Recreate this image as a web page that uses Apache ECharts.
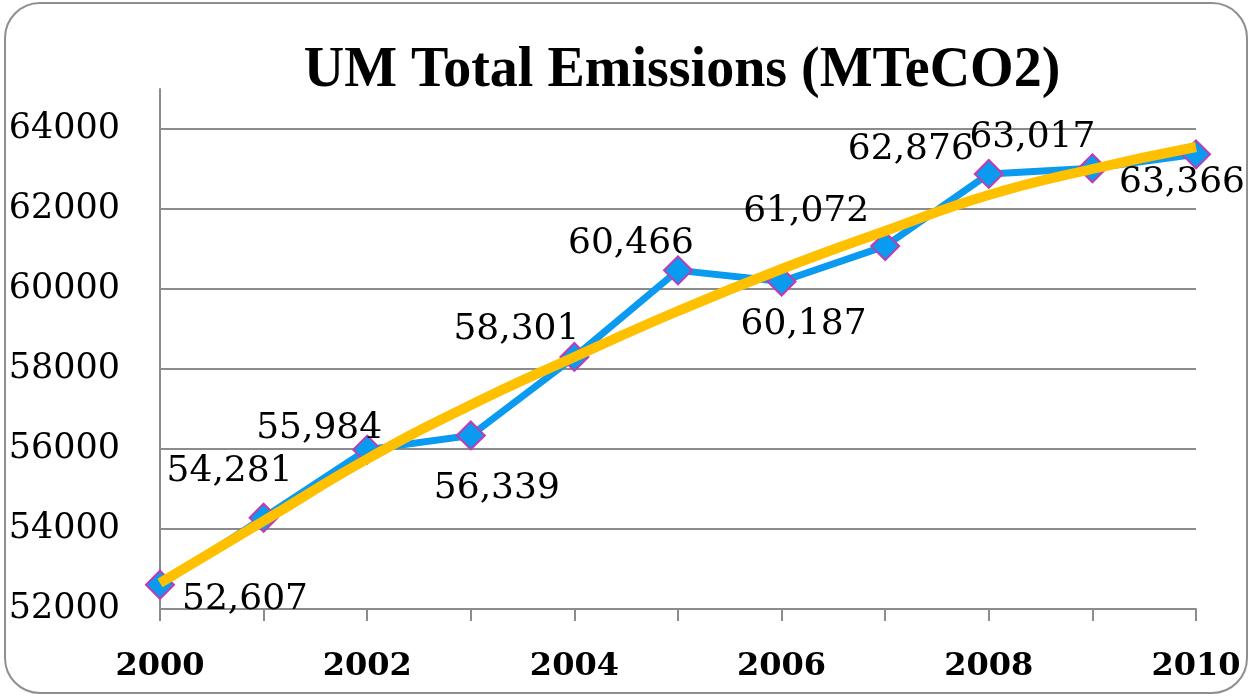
<!DOCTYPE html>
<html><head><meta charset="utf-8">
<script src="https://cdn.jsdelivr.net/npm/echarts@6/dist/echarts.min.js"></script>
<style>
html,body{margin:0;padding:0;background:#fff;}
#wrap{position:relative;width:1250px;height:698px;}
#chart{position:absolute;left:0;top:0;width:1250px;height:698px;}
#frame{position:absolute;left:4px;top:2px;width:1240px;height:688px;border:2px solid #8f8f8f;border-radius:36px;pointer-events:none;}
</style></head>
<body><div id="wrap"><div id="chart"></div><div id="frame"></div></div>
<script>
const years = ['2000','2001','2002','2003','2004','2005','2006','2007','2008','2009','2010'];
const emissions = [52607, 54281, 55984, 56339, 58301, 60466, 60187, 61072, 62876, 63017, 63366];
const trend = [52650, 54200, 55750, 57100, 58300, 59450, 60500, 61450, 62350, 63000, 63550];
const yTicks = [52000, 54000, 56000, 58000, 60000, 62000, 64000];
const titleText = 'UM Total Emissions (MTeCO2)';

// label placement offsets (styling)
const labelOffsets = [[85,15],[-34,-46],[-48,-21],[26,53],[-58,-27],[-47,-27],[22,43],[-79,-34],[-78,-24],[-60,-31],[-14,28]];

const fmt = v => v.toLocaleString('en-US');
const chart = echarts.init(document.getElementById('chart'));
const serif = '"DejaVu Serif", "Liberation Serif", serif';
chart.setOption({
  animation: false,
  title: {text: titleText, left: 677, textAlign: 'center', top: 39,
    textStyle: {fontFamily: '"Liberation Serif", serif', fontWeight: 'bold', fontSize: 56, color: '#000'}},
  grid: {left: 160, right: 54, top: 89, bottom: 89, containLabel: false, outerBoundsMode: 'none'},
  xAxis: {type: 'category', data: years, boundaryGap: false,
    axisLine: {lineStyle: {color: '#8c8c8c', width: 2}},
    axisTick: {show: true, length: 12, interval: 0, lineStyle: {color: '#8c8c8c', width: 2}},
    axisLabel: {interval: 1, margin: 42, fontFamily: serif, fontWeight: 'bold', fontSize: 32, color: '#000'}},
  yAxis: {type: 'value', min: yTicks[0], max: 65000, interval: 2000,
    axisLine: {show: true, lineStyle: {color: '#8c8c8c', width: 2}},
    axisTick: {show: false},
    splitLine: {lineStyle: {color: ['#8c8c8c','#8c8c8c','#8c8c8c','#8c8c8c','#8c8c8c','#8c8c8c','#8c8c8c','rgba(0,0,0,0)'], width: 2}},
    axisLabel: {showMaxLabel: false, margin: 40, fontFamily: serif, fontSize: 35, color: '#000',
      formatter: v => yTicks.includes(v) ? String(v) : ''}},
  series: [
    {type: 'line', name: 'Emissions', data: emissions.map((v, i) => ({value: v,
        label: {show: true, position: 'inside', offset: labelOffsets[i], formatter: p => fmt(p.value),
          fontFamily: serif, fontSize: 36, color: '#000'}})),
      symbol: 'diamond', symbolSize: [28, 28], z: 2,
      lineStyle: {color: '#0a9af0', width: 7},
      itemStyle: {color: '#0a9af0', borderColor: '#c03cb0', borderWidth: 2}},
    {type: 'line', name: 'Trend', data: trend, smooth: true, symbol: 'none', z: 3,
      lineStyle: {color: '#ffc000', width: 10}}
  ]
});
</script></body></html>
